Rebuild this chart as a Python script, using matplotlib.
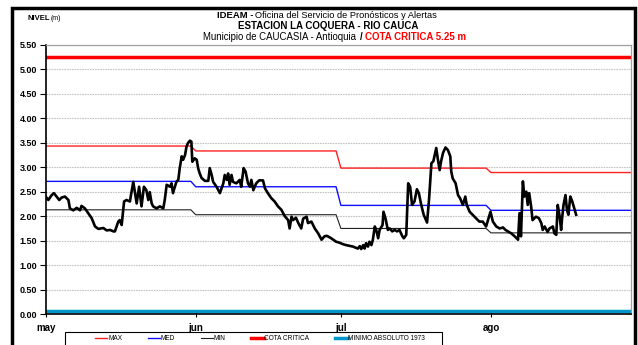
import numpy as np
import matplotlib.pyplot as plt
from matplotlib.patches import Rectangle

plt.rcParams['font.family'] = ['Liberation Sans', 'DejaVu Sans']

# dias contados desde el 1 de mayo
months = ['may', 'jun', 'jul', 'ago']
month_start = [0, 31, 61, 92]
month_end = [30, 60, 91, 121]

# niveles historicos mensuales (m)
nivel_max = [3.43, 3.33, 2.98, 2.89]
nivel_med = [2.71, 2.60, 2.22, 2.12]
nivel_min = [2.13, 2.03, 1.75, 1.66]
cota_critica = 5.25
minimo_absoluto = 0.07

# nivel observado
obs_day = [0, 0.55, 1.24, 1.7, 2.26, 2.8, 3.3, 3.98, 4.7, 5.0, 5.7, 6.4, 7.1, 7.4, 8.1, 8.8,
  9.5, 10.2, 10.9, 11.9, 12.6, 13.3, 14.0, 14.3, 15.0, 15.3, 15.7, 16.2, 16.7, 17.4, 18.1,
  18.8, 19.3, 19.8, 20.3, 20.8, 21.2, 21.5, 21.9, 22.2, 22.9, 23.6, 24.3, 24.6, 25.0, 25.7,
  26.0, 26.3, 27.0, 27.4, 27.7, 28.1, 28.4, 28.8, 29.1, 29.4, 29.8, 30.1, 30.3, 30.8, 31.2,
  31.5, 31.8, 32.2, 32.9, 33.6, 33.9, 34.3, 34.6, 35.3, 36.0, 36.7, 37.0, 37.4, 37.7, 38.0,
  38.4, 38.7, 39.4, 40.1, 40.4, 40.9, 41.3, 41.8, 42.2, 42.5, 42.9, 43.5, 44.1, 44.9, 45.3,
  45.9, 46.6, 47.3, 48.0, 48.7, 49.4, 50.1, 50.4, 50.8, 51.1, 51.7, 52.2, 52.8, 53.2, 53.9,
  54.2, 54.9, 55.6, 56.3, 57.0, 57.6, 58.1, 59.0, 60.0, 60.7, 61.4, 62.1, 63.5, 64.5, 64.9,
  65.2, 65.6, 65.9, 66.2, 66.6, 66.9, 67.3, 67.6, 68.0, 68.3, 68.7, 69.0, 69.6, 69.8, 70.2,
  70.7, 71.1, 71.6, 72.1, 72.6, 73.1, 73.7, 74.0, 74.5, 74.9, 75.3, 75.7, 76.2, 76.7, 77.1,
  77.6, 78.1, 78.8, 79.2, 79.7, 80.1, 80.7, 81.0, 81.4, 81.7, 82.1, 82.6, 83.1, 83.6, 83.8,
  84.1, 84.7, 85.2, 85.6, 86.2, 86.7, 87.0, 87.6, 88.2, 88.9, 89.6, 90.3, 91.0, 91.4, 91.9,
  92.4, 93.1, 93.8, 94.5, 95.0, 95.5, 96.2, 96.9, 97.6, 97.9, 98.2, 98.6, 98.9, 99.3, 99.6,
  99.9, 100.3, 100.6, 101.3, 101.9, 102.4, 102.7, 103.1, 103.7, 104.1, 104.8, 105.1, 105.5,
  105.8, 106.2, 106.5, 106.7, 107.0, 107.4, 107.7, 108.0, 108.4, 108.8, 109.3, 109.6]
obs_level = [2.40, 2.33, 2.43, 2.47, 2.40, 2.33, 2.38, 2.40, 2.33, 2.16, 2.12, 2.17, 2.12, 2.21,
  2.16, 2.06, 1.96, 1.79, 1.74, 1.76, 1.71, 1.72, 1.69, 1.69, 1.89, 1.92, 1.82, 2.30, 2.33,
  2.30, 2.70, 2.26, 2.60, 2.20, 2.60, 2.53, 2.33, 2.49, 2.26, 2.20, 2.16, 2.20, 2.16, 2.33,
  2.64, 2.60, 2.67, 2.47, 2.70, 2.74, 2.98, 3.22, 3.15, 3.25, 3.42, 3.49, 3.54, 3.52, 3.11,
  3.18, 3.15, 2.98, 2.88, 2.78, 2.72, 2.72, 2.98, 2.84, 2.70, 2.60, 2.47, 2.67, 2.84, 2.74,
  2.87, 2.64, 2.84, 2.70, 2.67, 2.74, 2.60, 2.98, 2.91, 2.67, 2.60, 2.74, 2.53, 2.67, 2.73,
  2.73, 2.57, 2.47, 2.37, 2.30, 2.20, 2.13, 2.00, 1.92, 1.75, 1.99, 1.92, 1.97, 1.86, 1.75,
  1.95, 1.99, 1.86, 1.89, 1.75, 1.65, 1.52, 1.59, 1.60, 1.55, 1.48, 1.46, 1.43, 1.41, 1.38,
  1.34, 1.39, 1.33, 1.41, 1.34, 1.45, 1.38, 1.48, 1.41, 1.52, 1.79, 1.72, 1.55, 1.72, 1.82,
  2.09, 1.96, 1.72, 1.75, 1.69, 1.72, 1.69, 1.72, 1.59, 1.55, 1.62, 2.67, 2.60, 2.23, 2.30,
  2.55, 2.47, 2.23, 2.03, 1.87, 2.33, 3.08, 3.12, 3.39, 3.18, 2.94, 3.12, 3.29, 3.40, 3.35,
  3.22, 2.91, 2.77, 2.67, 2.43, 2.37, 2.23, 2.40, 2.23, 2.09, 2.03, 1.96, 1.89, 1.89, 1.79,
  1.92, 2.09, 1.89, 1.79, 1.75, 1.77, 1.72, 1.69, 1.65, 1.59, 1.52, 2.06, 1.59, 2.71, 2.40,
  2.50, 2.23, 2.47, 2.20, 1.92, 1.99, 1.96, 1.86, 1.72, 1.79, 1.68, 1.75, 1.79, 1.65, 1.62,
  2.23, 1.99, 1.72, 1.96, 2.23, 2.43, 2.13, 2.03, 2.40, 2.30, 2.13, 2.03]


def monthly_steps(values):
  # cada valor mensual se mantiene del primer al ultimo dia del mes
  x = np.column_stack([month_start, month_end]).ravel()
  y = np.repeat(values, 2)
  return x, y


fig = plt.figure(figsize=(6.38, 3.45), dpi=100)
ax = fig.add_axes([0.0716, 0.089, 0.9179, 0.782])

ax.set_yticks(np.arange(0, 5.51, 0.5))
ax.yaxis.grid(True, color='#c4c4c4', linestyle=(0, (1.5, 0.8)), linewidth=0.8)
ax.set_axisbelow(True)

x, y = monthly_steps(nivel_max)
ax.plot(x, y, color='#ff2020', lw=1.0, label='MAX')
x, y = monthly_steps(nivel_med)
ax.plot(x, y, color='#1010ff', lw=1.0, label='MED')
x, y = monthly_steps(nivel_min)
ax.plot(x, y, color='#202020', lw=0.8, label='MIN')
ax.axhline(cota_critica, color='#ff0000', lw=2.5, label='COTA CRITICA')
ax.axhline(minimo_absoluto, color='#0096cc', lw=2.5, label='MINIMO ABSOLUTO 1973')
ax.plot(obs_day, obs_level, color='black', lw=1.9, solid_joinstyle='round')

ax.set_xlim(0, 121)
ax.set_ylim(0, 5.5)
ax.set_xticks(month_start)
ax.set_xticklabels(months, fontweight='bold', fontsize=7)
ax.set_yticklabels([f'{v:.2f}' for v in np.arange(0, 5.51, 0.5)], fontweight='bold', fontsize=6.5)
ax.tick_params(axis='x', direction='inout', length=5, width=0.8, pad=4)
ax.tick_params(axis='y', direction='out', length=4, width=0.8, pad=2)

for side in ['left', 'bottom']:
  ax.spines[side].set_color('black')
  ax.spines[side].set_linewidth(1.2)
for side in ['right', 'top']:
  ax.spines[side].set_color('#a0a0a0')
  ax.spines[side].set_linewidth(0.9)

# encabezado
fig.text(253 / 638, 1 - 15 / 345, 'IDEAM -', fontsize=6.8, fontweight='bold', ha='right', va='center')
fig.text(255 / 638, 1 - 15 / 345, 'Oficina del Servicio de Pronósticos y Alertas', fontsize=6.7,
  ha='left', va='center')
fig.text(328 / 638, 1 - 26 / 345, 'ESTACION LA COQUERA - RIO CAUCA', fontsize=7, fontweight='bold',
  ha='center', va='center')
fig.text(356 / 638, 1 - 37 / 345, 'Municipio de CAUCASIA - Antioquia', fontsize=6.9,
  ha='right', va='center')
fig.text(360 / 638, 1 - 37 / 345, '/', fontsize=7, fontweight='bold', ha='left', va='center')
fig.text(365 / 638, 1 - 37 / 345, 'COTA CRITICA 5.25 m', fontsize=7, fontweight='bold', color='#ff0000',
  ha='left', va='center')
fig.text(27 / 638, 1 - 18 / 345, 'NIVEL', fontsize=5.5, fontweight='bold', ha='left', va='center')
fig.text(51 / 638, 1 - 18 / 345, '(m)', fontsize=5, ha='left', va='center')

# leyenda: entradas repartidas dentro de un recuadro propio
ax.legend(loc='upper left', bbox_to_anchor=(93 / 638, 0, 334 / 638, 12 / 345),
  bbox_transform=fig.transFigure, mode='expand', ncol=5, fontsize=4.7, handlelength=1.9,
  handletextpad=0.1, borderpad=0.3, frameon=False, borderaxespad=0)
fig.patches.append(Rectangle((65 / 638, -0.05), 377 / 638, 0.05 + 13 / 345, transform=fig.transFigure,
  fill=False, edgecolor='black', linewidth=0.8))

# marco exterior
fig.patches.append(Rectangle((12 / 638, -0.05), 623 / 638, 1.05 - 8 / 345, transform=fig.transFigure,
  fill=False, edgecolor='black', linewidth=2.5))

fig.savefig('out.png', dpi=100)
